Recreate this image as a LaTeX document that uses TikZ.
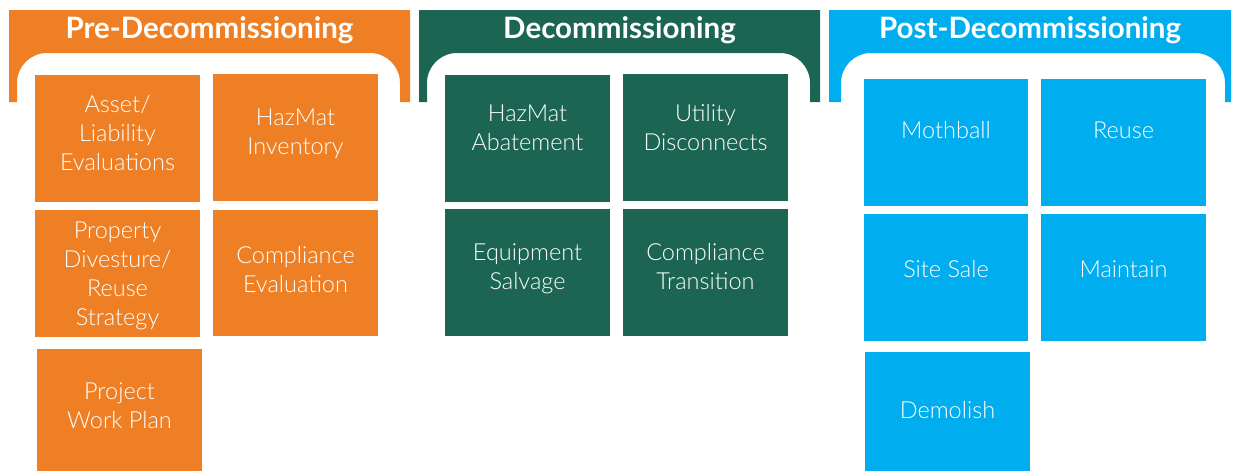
\documentclass[tikz,border=0pt]{standalone}
\usepackage{fontspec}
\setmainfont{Lato}
\newfontfamily\tilefont{Lato Light}
\usetikzlibrary{calc}

\definecolor{preorange}{HTML}{EE7F24}
\definecolor{decgreen}{HTML}{1D6553}
\definecolor{postblue}{HTML}{00AEEF}

\tikzset{
  tilebox/.style={rectangle, draw=none, inner sep=0pt, outer sep=0pt},
  tiletext/.style={text=white, align=center, inner sep=0pt,
    font=\tilefont\fontsize{23.5}{29}\selectfont},
  headtext/.style={text=white, inner sep=0pt,
    font=\bfseries\fontsize{29.5}{34}\selectfont},
}

% tile: name, colour, x1, y1, x2, y2, first baseline, text
\newcommand\tile[8]{%
  \node[tilebox, fill=#2, minimum width={#5-#3}, minimum height={#6-#4},
        anchor=north west] (#1) at (#3,#4) {};
  \node[tiletext, anchor=north] (#1-t) at ($(#1.north)+(0,{#7-#4-20.3})$) {\strut #8};
}

% phase banner: name, colour, outer left, inner left, inner right, outer right, title
\newcommand\phasebanner[7]{%
  \fill[#2] (#3,10) -- (#6,10) -- (#6,102) -- (#5,102) -- (#5,83)
    .. controls (#5,66.4) and ({#5-13.4},53) .. ({#5-30},53)
    -- ({#4+30},53)
    .. controls ({#4+13.4},53) and (#4,66.4) .. (#4,83)
    -- (#4,102) -- (#3,102) -- cycle;
  \node[headtext, anchor=base] (#1) at ({(#3+#6)/2},38) {#7};
}

\begin{document}
\begin{tikzpicture}[x=1pt, y=-1pt]
  \useasboundingbox (0,0) rectangle (1234,471);
  \clip (0,0) rectangle (1234,471);

  % banners
  \phasebanner{pre}{preorange}{9}{17}{400}{410}{Pre-Decommissioning}
  \phasebanner{dec}{decgreen}{419}{427}{810}{820}{Decommissioning}
  \phasebanner{post}{postblue}{829}{841}{1225}{1231}{Post-Decommissioning}

  % pre-decommissioning tiles
  \tile{asset}{preorange}{35}{75}{200}{202}{112}{Asset/\\Liability\\Evaluations}
  \tile{hazinv}{preorange}{213}{74}{378}{201}{125}{HazMat\\Inventory}
  \tile{prop}{preorange}{35}{210}{200}{337}{238}{Property\\Divesture/\\Reuse\\Strategy}
  \tile{compev}{preorange}{213}{210}{378}{336}{263}{Compliance\\Evaluation}
  \tile{plan}{preorange}{37}{349}{202}{480}{399}{Project\\Work Plan}

  % decommissioning tiles
  \tile{hazab}{decgreen}{445}{75}{610}{202}{121}{HazMat\\Abatement}
  \tile{util}{decgreen}{623}{74}{788}{201}{121}{Utility\\Disconnects}
  \tile{equip}{decgreen}{445}{209}{610}{336}{260}{Equipment\\Salvage}
  \tile{comptr}{decgreen}{623}{209}{788}{336}{260}{Compliance\\Transition}

  % post-decommissioning tiles
  \tile{moth}{postblue}{864}{79}{1028}{206}{138}{Mothball}
  \tile{reuse}{postblue}{1041}{79}{1206}{206}{138}{Reuse}
  \tile{sale}{postblue}{864}{214}{1028}{341}{277}{Site Sale}
  \tile{maint}{postblue}{1041}{214}{1206}{341}{277}{Maintain}
  \tile{demo}{postblue}{865}{352}{1030}{480}{418}{Demolish}
\end{tikzpicture}
\end{document}
